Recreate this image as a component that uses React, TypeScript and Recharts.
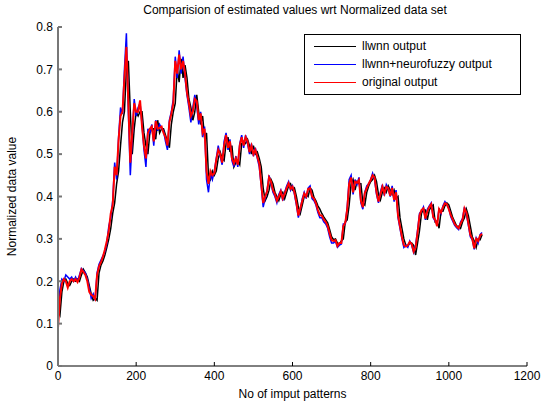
import React from 'react';
import { LineChart, Line, XAxis, YAxis, Label } from 'recharts';

// every 5th input pattern
const patternStep = 5;

const originalOutput = [
  0.09, 0.16, 0.195, 0.205, 0.2, 0.185, 0.2, 0.205, 0.2, 0.205,
  0.198, 0.21, 0.228, 0.222, 0.215, 0.2, 0.175, 0.168, 0.165, 0.158,
  0.215, 0.235, 0.245, 0.258, 0.275, 0.295, 0.32, 0.36, 0.38, 0.47,
  0.45, 0.533, 0.59, 0.6, 0.68, 0.753, 0.62, 0.48, 0.55, 0.62,
  0.6, 0.6, 0.627, 0.565, 0.52, 0.49, 0.55, 0.56, 0.565, 0.53,
  0.578, 0.56, 0.562, 0.565, 0.55, 0.54, 0.52, 0.575, 0.595, 0.62,
  0.72, 0.69, 0.735, 0.7, 0.72, 0.69, 0.645, 0.62, 0.59, 0.6,
  0.63, 0.625, 0.58, 0.596, 0.55, 0.56, 0.46, 0.43, 0.46, 0.45,
  0.455, 0.487, 0.51, 0.5, 0.48, 0.52, 0.545, 0.515, 0.53, 0.49,
  0.478, 0.49, 0.475, 0.52, 0.54, 0.52, 0.54, 0.53, 0.505, 0.52,
  0.5, 0.51, 0.494, 0.478, 0.43, 0.385, 0.4, 0.412, 0.445, 0.435,
  0.415, 0.405, 0.39, 0.4, 0.412, 0.395, 0.407, 0.42, 0.431, 0.418,
  0.423, 0.41, 0.385, 0.355, 0.372, 0.39, 0.407, 0.4, 0.418, 0.42,
  0.4, 0.395, 0.384, 0.368, 0.356, 0.355, 0.346, 0.34, 0.33, 0.313,
  0.297, 0.295, 0.297, 0.283, 0.29, 0.29, 0.33, 0.338, 0.37, 0.43,
  0.445, 0.41, 0.435, 0.432, 0.439, 0.39, 0.375, 0.408, 0.42, 0.43,
  0.439, 0.45, 0.445, 0.41, 0.388, 0.405, 0.423, 0.407, 0.423, 0.42,
  0.402, 0.42, 0.392, 0.41, 0.355, 0.33, 0.305, 0.285, 0.282, 0.285,
  0.293, 0.288, 0.27, 0.28, 0.315, 0.355, 0.368, 0.372, 0.348, 0.365,
  0.375, 0.382, 0.352, 0.345, 0.33, 0.37, 0.362, 0.375, 0.384, 0.382,
  0.37, 0.356, 0.346, 0.335, 0.329, 0.325, 0.336, 0.345, 0.372, 0.362,
  0.337, 0.31, 0.3, 0.278, 0.3, 0.295, 0.308, 0.312
];

const llwnnOutput = [
  0.13, 0.12, 0.175, 0.2, 0.205, 0.195, 0.19, 0.2, 0.205, 0.2,
  0.205, 0.2, 0.215, 0.228, 0.22, 0.21, 0.19, 0.17, 0.155, 0.16,
  0.155, 0.22, 0.238, 0.248, 0.262, 0.28, 0.3, 0.325, 0.36, 0.385,
  0.43, 0.46, 0.52, 0.575, 0.6, 0.7, 0.72, 0.6, 0.5, 0.56,
  0.6, 0.59, 0.6, 0.6, 0.55, 0.52, 0.5, 0.55, 0.56, 0.56,
  0.535, 0.58, 0.55, 0.56, 0.56, 0.545, 0.53, 0.515, 0.57, 0.6,
  0.62, 0.7, 0.67, 0.725, 0.68, 0.71, 0.68, 0.63, 0.61, 0.58,
  0.6, 0.64, 0.6, 0.57, 0.59, 0.54, 0.55, 0.45, 0.44, 0.46,
  0.45, 0.46, 0.49, 0.505, 0.49, 0.485, 0.525, 0.54, 0.505, 0.52,
  0.47, 0.48, 0.485, 0.475, 0.525, 0.53, 0.525, 0.535, 0.52, 0.5,
  0.52, 0.5, 0.505, 0.49, 0.47, 0.42, 0.39, 0.4, 0.415, 0.44,
  0.43, 0.41, 0.4, 0.39, 0.405, 0.41, 0.395, 0.41, 0.425, 0.43,
  0.415, 0.42, 0.4, 0.375, 0.36, 0.38, 0.4, 0.405, 0.4, 0.42,
  0.415, 0.398, 0.39, 0.378, 0.37, 0.36, 0.352, 0.345, 0.338, 0.322,
  0.305, 0.298, 0.3, 0.29, 0.288, 0.295, 0.3, 0.34, 0.345, 0.38,
  0.43, 0.44, 0.415, 0.435, 0.43, 0.43, 0.385, 0.38, 0.41, 0.425,
  0.435, 0.44, 0.45, 0.435, 0.405, 0.392, 0.41, 0.42, 0.41, 0.425,
  0.415, 0.405, 0.415, 0.395, 0.4, 0.35, 0.325, 0.3, 0.285, 0.283,
  0.29, 0.29, 0.285, 0.262, 0.29, 0.32, 0.36, 0.37, 0.368, 0.345,
  0.368, 0.376, 0.38, 0.34, 0.342, 0.325, 0.365, 0.365, 0.378, 0.385,
  0.38, 0.365, 0.35, 0.34, 0.33, 0.33, 0.325, 0.34, 0.35, 0.37,
  0.355, 0.33, 0.305, 0.295, 0.28, 0.3, 0.298, 0.31
];

const neurofuzzyOutput = [
  0.14, 0.18, 0.205, 0.2, 0.215, 0.21, 0.205, 0.21, 0.2, 0.21,
  0.2, 0.215, 0.23, 0.225, 0.22, 0.205, 0.185, 0.16, 0.17, 0.155,
  0.22, 0.24, 0.25, 0.26, 0.27, 0.29, 0.33, 0.35, 0.39, 0.48,
  0.44, 0.54, 0.61, 0.595, 0.7, 0.785, 0.6, 0.45, 0.54, 0.63,
  0.59, 0.61, 0.62, 0.57, 0.51, 0.47, 0.56, 0.55, 0.57, 0.52,
  0.58, 0.555, 0.57, 0.56, 0.555, 0.53, 0.51, 0.58, 0.6, 0.63,
  0.73, 0.68, 0.745, 0.69, 0.73, 0.68, 0.64, 0.61, 0.575, 0.61,
  0.64, 0.615, 0.57, 0.6, 0.54, 0.565, 0.44, 0.41, 0.455, 0.44,
  0.46, 0.49, 0.52, 0.495, 0.475, 0.53, 0.55, 0.51, 0.535, 0.485,
  0.47, 0.495, 0.47, 0.525, 0.545, 0.515, 0.545, 0.525, 0.5, 0.525,
  0.495, 0.515, 0.49, 0.47, 0.425, 0.375, 0.395, 0.415, 0.45, 0.43,
  0.41, 0.4, 0.385, 0.405, 0.415, 0.39, 0.41, 0.425, 0.435, 0.415,
  0.425, 0.405, 0.38, 0.35, 0.37, 0.395, 0.41, 0.395, 0.42, 0.425,
  0.395, 0.39, 0.38, 0.362, 0.35, 0.35, 0.34, 0.335, 0.325, 0.305,
  0.29, 0.29, 0.295, 0.28, 0.285, 0.288, 0.335, 0.335, 0.375, 0.44,
  0.45, 0.405, 0.44, 0.428, 0.445, 0.385, 0.37, 0.41, 0.425, 0.43,
  0.44, 0.455, 0.44, 0.405, 0.385, 0.41, 0.428, 0.402, 0.428, 0.418,
  0.4, 0.425, 0.388, 0.415, 0.35, 0.325, 0.3, 0.28, 0.285, 0.28,
  0.295, 0.285, 0.268, 0.285, 0.32, 0.36, 0.365, 0.375, 0.345, 0.37,
  0.378, 0.385, 0.35, 0.342, 0.335, 0.372, 0.36, 0.378, 0.388, 0.38,
  0.372, 0.352, 0.342, 0.332, 0.326, 0.322, 0.34, 0.348, 0.375, 0.358,
  0.332, 0.305, 0.298, 0.275, 0.302, 0.29, 0.31, 0.315
];

const xTicks = [0, 200, 400, 600, 800, 1000, 1200];
const yTicks = [0, 0.1, 0.2, 0.3, 0.4, 0.5, 0.6, 0.7, 0.8];

const seriesInfo = [
  { key: 'llwnn', name: 'llwnn output', color: '#000000', width: 1.5 },
  { key: 'neuro', name: 'llwnn+neurofuzzy output', color: '#0000ff', width: 1.5 },
  { key: 'original', name: 'original output', color: '#ff0000', width: 2 }
];

const chartData = originalOutput.map((v, i) => ({
  pattern: i * patternStep,
  llwnn: llwnnOutput[i],
  neuro: neurofuzzyOutput[i],
  original: v
}));

const font = '"Liberation Sans", Arial, sans-serif';

// matlab-style boxed legend, sits over the plot
const BoxLegend = () => (
  <div
    style={{
      position: 'absolute',
      left: 304,
      top: 34,
      width: 217,
      height: 61,
      border: '1px solid #000',
      background: '#fff',
      boxSizing: 'border-box',
      paddingTop: 2,
      fontFamily: font,
      fontSize: 12,
      color: '#000'
    }}
  >
    {seriesInfo.map((s) => (
      <div key={s.key} style={{ display: 'flex', alignItems: 'center', height: 18 }}>
        <div style={{ width: 42, height: 0, borderTop: `1px solid ${s.color}`, marginLeft: 9, marginRight: 6 }} />
        <span>{s.name}</span>
      </div>
    ))}
  </div>
);

export default function App() {
  return (
    <div style={{ position: 'absolute', left: 0, top: 0, width: 548, height: 407, background: '#fff' }}>
      <div
        style={{
          position: 'absolute',
          top: 3,
          left: 0,
          width: 590,
          textAlign: 'center',
          fontFamily: font,
          fontSize: 12,
          color: '#000'
        }}
      >
        Comparision of estimated values wrt Normalized data set
      </div>
      <LineChart
        width={548}
        height={407}
        data={chartData}
        margin={{ top: 27, right: 21, bottom: 0, left: 0 }}
      >
        <XAxis
          dataKey="pattern"
          type="number"
          domain={[0, 1200]}
          ticks={xTicks}
          height={41}
          tickSize={-4}
          tickMargin={9}
          stroke="#000"
          tick={{ fill: '#000', fontSize: 12, fontFamily: font }}
        >
          <Label
            value="No of imput patterns"
            position="insideBottom"
            offset={9}
            style={{ fill: '#000', fontSize: 12, fontFamily: font }}
          />
        </XAxis>
        <YAxis
          type="number"
          domain={[0, 0.8]}
          ticks={yTicks}
          width={58}
          tickSize={-4}
          tickMargin={9}
          stroke="#777"
          strokeWidth={2}
          tick={{ fill: '#000', fontSize: 12, fontFamily: font }}
        >
          <Label
            value="Normalized data value"
            angle={-90}
            position="insideLeft"
            offset={12}
            style={{ textAnchor: 'middle', fill: '#000', fontSize: 12, fontFamily: font }}
          />
        </YAxis>
        {seriesInfo.map((s) => (
          <Line
            key={s.key}
            type="linear"
            dataKey={s.key}
            name={s.name}
            stroke={s.color}
            strokeWidth={s.width}
            dot={false}
            isAnimationActive={false}
          />
        ))}
      </LineChart>
      <BoxLegend />
    </div>
  );
}
